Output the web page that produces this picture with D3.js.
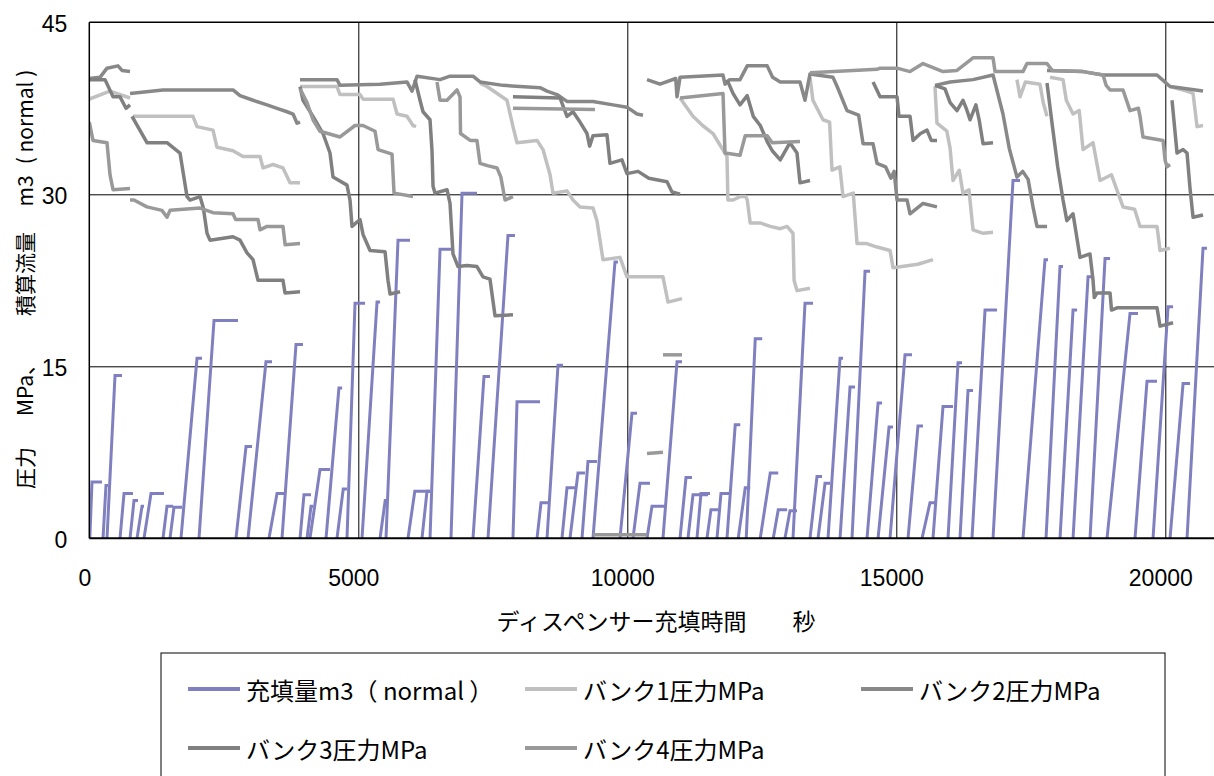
<!DOCTYPE html>
<html>
<head>
<meta charset="utf-8">
<script src="https://d3js.org/d3.v7.min.js"></script>
<style>
  body { margin: 0; background: #fff; }
  .tick-label { font-family: "Liberation Sans", Arial, sans-serif; font-size: 23px; fill: #000; }
  .cjk { font-family: "Noto Sans CJK JP", "Noto Sans", sans-serif; fill: #000; }
</style>
</head>
<body>
<svg id="chart" width="1214" height="776"></svg>
<script>
// axis ticks
const xTicks = [0, 5000, 10000, 15000, 20000];
const yTicks = [0, 15, 30, 45];

const seriesNames = ['充填量m3（ normal ）', 'バンク1圧力MPa', 'バンク2圧力MPa', 'バンク3圧力MPa', 'バンク4圧力MPa'];
const seriesColors = ['#8080c0', '#c0c0c0', '#888888', '#808080', '#999999'];

// y title pieces, written bottom to top
const yTitleParts = ['圧力', 'MPa、', '積算流量', 'm3', '( normal )'];

// fill events: [start s, end of rise s, top m3, end of fill s]
const fillEvents = [
    [10, 50, 4.9, 236], [255, 310, 4.6, 348], [329, 478, 14.2, 608], [571, 645, 3.9, 812],
    [757, 831, 3.3, 905], [887, 980, 2.8, 1017], [1017, 1147, 3.9, 1389], [1370, 1444, 2.8, 1556],
    [1500, 1574, 2.7, 1723], [1704, 2002, 15.7, 2095], [2039, 2318, 19.0, 2764], [2727, 2913, 8.0, 3024],
    [2950, 3284, 15.4, 3396], [3340, 3489, 3.9, 3638], [3582, 3842, 16.9, 3972], [3917, 3990, 3.8, 4121],
    [4047, 4121, 2.8, 4158], [4102, 4288, 6.0, 4474], [4400, 4640, 13.1, 4700], [4604, 4720, 4.3, 4790],
    [4790, 4939, 20.5, 5125], [5069, 5348, 20.6, 5404], [5404, 5500, 3.3, 5530], [5515, 5738, 26.0, 5961],
    [5924, 6050, 4.1, 6333], [6184, 6277, 4.1, 6333], [6333, 6519, 25.2, 6760], [6723, 6928, 30.1, 7206],
    [7132, 7336, 14.1, 7448], [7411, 7782, 26.4, 7913], [7875, 7950, 11.9, 8378], [8322, 8396, 3.1, 8526],
    [8508, 8712, 15.1, 8805], [8786, 8879, 4.4, 9028], [8935, 9083, 5.7, 9213], [9158, 9269, 6.7, 9436],
    [9362, 9771, 24.1, 9827], [9864, 10087, 10.9, 10180], [10106, 10236, 4.8, 10422], [10366, 10459, 2.8, 10738],
    [10663, 10924, 15.4, 11017], [10980, 11091, 5.3, 11202], [11128, 11221, 3.8, 11500], [11295, 11369, 3.9, 11537],
    [11481, 11555, 2.5, 11686], [11667, 11741, 3.9, 11913], [11853, 12006, 9.9, 12100], [12062, 12192, 4.4, 12285],
    [12211, 12378, 17.4, 12508], [12471, 12657, 5.7, 12806], [12713, 12806, 2.5, 12970], [12931, 13024, 2.4, 13154],
    [13080, 13303, 20.5, 13452], [13396, 13526, 5.4, 13619], [13545, 13675, 4.8, 13768], [13731, 13954, 15.7, 14010],
    [13954, 14140, 13.2, 14233], [14177, 14419, 23.3, 14512], [14456, 14661, 11.8, 14735], [14661, 14865, 9.7, 14939],
    [14883, 15162, 16.0, 15292], [15218, 15403, 9.8, 15496], [15478, 15626, 3.1, 15719], [15682, 15868, 11.5, 16054],
    [15961, 16147, 15.3, 16221], [16184, 16333, 12.9, 16426], [16407, 16649, 19.9, 16872], [16798, 17169, 31.2, 17299],
    [17355, 17764, 24.3, 17820], [17783, 18043, 23.7, 18099], [18043, 18285, 19.9, 18360], [18285, 18564, 22.8, 18657],
    [18601, 18880, 24.4, 18973], [18917, 19344, 19.6, 19493], [19437, 19660, 13.7, 19846], [19772, 20051, 20.2, 20144],
    [20088, 20330, 13.5, 20460], [20404, 20701, 25.3, 20775]
];

// bank pressures, MPa: one array of [s, MPa] per recorded stretch
const bank1 = [
    [[0, 38.3], [385, 39.0], [757, 38.4]],
    [[812, 36.8], [1927, 36.8], [2002, 35.9], [2299, 35.6], [2373, 34.1], [2671, 33.8], [2857, 33.3], [3173, 33.3], [3229, 32.3], [3415, 32.6], [3600, 32.3], [3731, 31.0], [3917, 31.0]],
    [[3917, 39.4], [4604, 39.4], [4660, 38.7], [5032, 38.7], [5088, 38.3], [5646, 38.3], [5720, 37.0], [5905, 36.8], [6017, 36.0], [6073, 35.9]],
    [[7262, 39.7], [7392, 39.4], [7764, 38.2], [7875, 35.9], [7950, 34.5], [8322, 34.7], [8433, 33.9], [8564, 31.7], [8619, 30.1], [8879, 30.3], [8991, 29.5], [9121, 28.9], [9362, 28.8], [9436, 27.7], [9492, 26.0], [9548, 24.3], [9864, 24.5], [9994, 22.8], [10663, 22.8], [10757, 20.6], [11017, 20.9]],
    [[10980, 38.4], [11221, 36.8], [11400, 36.0], [11593, 35.3], [11723, 34.3], [11853, 33.3], [11870, 29.5], [11965, 29.5], [12095, 29.8], [12200, 29.8], [12229, 29.5], [12285, 27.5], [12471, 27.5], [12657, 27.2], [12843, 27.0], [12970, 27.2], [13080, 26.6], [13100, 22.5], [13154, 21.6], [13396, 21.8]],
    [[13396, 40.2], [13450, 38.2], [13637, 36.5], [13760, 36.3], [13805, 32.1], [13950, 32.4], [14010, 29.8], [14200, 30.1], [14270, 25.7], [14450, 25.7], [14642, 25.4], [14884, 25.1], [14939, 23.6], [15400, 23.9], [15682, 24.3]],
    [[15719, 39.4], [15756, 36.2], [15940, 35.5], [16000, 34.0], [16054, 31.2], [16170, 32.1], [16239, 30.1], [16350, 30.4], [16426, 26.9], [16612, 26.6], [16798, 26.7]],
    [[17243, 40.0], [17300, 38.5], [17400, 39.8], [17671, 39.6], [17730, 38.0], [17801, 36.8]],
    [[17857, 40.2], [18099, 40.0], [18160, 38.2], [18285, 37.0], [18400, 37.3], [18471, 33.9], [18657, 34.5], [18787, 31.2], [19000, 31.7], [19214, 28.9], [19430, 28.7], [19530, 27.2], [19846, 27.2], [19902, 25.1], [20088, 25.3]],
    [[20088, 39.4], [20400, 39.0], [20516, 38.8], [20590, 35.9], [20701, 36.0]]
];

const bank2 = [
    [[0, 40.1], [199, 40.2], [329, 41.0], [533, 41.2], [608, 40.8], [757, 40.7]],
    [[757, 38.8], [1370, 39.1], [2671, 39.1], [2801, 38.6], [3043, 38.2], [3303, 37.8], [3489, 37.5], [3675, 37.2], [3787, 37.0], [3861, 36.2], [3917, 36.3]],
    [[3917, 40.0], [4604, 40.0], [4660, 39.5], [5404, 39.6], [5905, 39.8], [5998, 39.0], [6091, 40.3], [6519, 40.0], [6705, 40.3], [7132, 40.3], [7262, 39.8], [7690, 39.5], [8378, 39.3], [8508, 39.0], [8693, 38.7], [8879, 38.1], [9362, 38.1], [9734, 37.8], [9994, 37.6], [10180, 37.0], [10292, 36.9]],
    [[10366, 40.0], [10608, 39.6], [10900, 40.1], [10924, 38.5], [10980, 40.2], [11779, 40.4], [11816, 39.6], [11900, 40.0], [12095, 40.0], [12229, 41.2], [12601, 41.2], [12700, 40.2], [12843, 39.8], [13210, 39.8], [13303, 38.2], [13396, 40.5], [13824, 40.2], [13900, 39.4], [14084, 37.3], [14300, 36.9], [14382, 34.4], [14568, 34.4], [14642, 32.7], [14800, 32.4], [14900, 31.4], [14960, 32.0], [15014, 29.5], [15200, 29.5], [15255, 28.3], [15497, 29.2], [15756, 28.9]],
    [[15719, 39.5], [16000, 39.8], [16426, 40.0], [16798, 40.4], [16983, 37.0], [17100, 34.0], [17243, 31.5], [17350, 32.0], [17450, 31.3], [17541, 28.9], [17615, 27.2], [17801, 27.2]],
    [[17801, 40.8], [18471, 40.7], [18843, 40.4], [19846, 40.4], [19990, 39.8], [20088, 39.4], [20701, 39.0]]
];

const bank3 = [
    [[0, 40.0], [292, 40.0], [441, 38.5], [571, 38.5], [682, 37.5], [757, 37.8]],
    [[794, 36.8], [1072, 34.5], [1444, 34.5], [1686, 33.6], [1816, 29.8], [1872, 29.5], [2058, 29.8], [2120, 28.8], [2188, 26.6], [2243, 26.0], [2671, 26.3], [2801, 26.0], [2931, 24.9], [3043, 24.3], [3136, 22.5], [3600, 22.5], [3638, 21.4], [3917, 21.5]],
    [[3917, 39.4], [3972, 38.2], [4158, 36.8], [4344, 35.3], [4474, 33.6], [4530, 31.5], [4790, 30.8], [4846, 29.5], [4883, 27.2], [5032, 27.8], [5088, 26.5], [5218, 25.1], [5497, 25.0], [5552, 22.5], [5590, 21.3], [5776, 21.5]],
    [[6054, 40.0], [6147, 38.2], [6203, 37.2], [6333, 36.5], [6370, 33.8], [6389, 30.7], [6426, 30.1], [6649, 30.4], [6705, 29.2], [6760, 24.8], [6853, 23.7], [7021, 23.8], [7206, 23.7], [7318, 22.8], [7448, 22.6], [7541, 19.4], [7875, 19.5]],
    [[7875, 38.5], [8749, 38.4], [8879, 36.8], [8991, 37.2], [9121, 36.3], [9251, 35.3], [9300, 34.2], [9362, 35.1], [9622, 35.2], [9678, 32.7], [9900, 33.0], [9994, 31.8], [10200, 32.0], [10400, 31.4], [10738, 31.1], [10831, 30.2], [10980, 30.0]],
    [[11853, 40.0], [11965, 38.8], [12095, 37.8], [12229, 38.6], [12341, 36.8], [12471, 36.0], [12601, 34.6], [12694, 33.8], [12843, 33.0], [13024, 34.5], [13154, 33.6], [13210, 31.0], [13396, 31.2]],
    [[14568, 39.8], [14698, 38.5], [15014, 38.5], [15050, 36.8], [15255, 36.8], [15311, 34.7], [15450, 35.3], [15571, 35.6], [15650, 34.7], [15756, 34.7]],
    [[15719, 39.5], [15905, 39.2], [16000, 38.0], [16128, 37.3], [16239, 38.2], [16300, 37.5], [16370, 36.5], [16480, 37.8], [16540, 36.5], [16612, 34.4], [16798, 34.5]],
    [[17801, 39.7], [17900, 36.0], [18000, 32.4], [18099, 29.5], [18170, 27.7], [18285, 28.3], [18415, 24.5], [18600, 24.8], [18657, 22.5], [18680, 21.0], [18731, 21.4], [18973, 21.4], [19000, 19.9], [19103, 20.1], [19846, 20.1], [19902, 18.5], [20144, 18.8]],
    [[20125, 38.2], [20218, 33.6], [20330, 33.9], [20404, 33.6], [20460, 30.5], [20516, 28.0], [20701, 28.2]]
];

const bank4 = [
    [[0, 36.3], [69, 34.7], [329, 34.5], [385, 31.7], [441, 30.4], [757, 30.5]],
    [[757, 29.5], [830, 29.5], [1072, 28.9], [1350, 28.6], [1444, 28.0], [1500, 28.6], [2058, 28.8], [2300, 28.4], [2671, 28.3], [2720, 27.8], [3136, 27.8], [3173, 26.9], [3303, 27.2], [3600, 27.2], [3640, 25.6], [3917, 25.7]],
    [[3917, 39.2], [4047, 38.0], [4158, 36.5], [4288, 35.5], [4660, 35.0], [4939, 36.0], [5088, 36.0], [5311, 35.5], [5367, 33.9], [5627, 33.5], [5664, 30.1], [6017, 29.8]],
    [[6463, 39.8], [6519, 38.2], [6649, 38.2], [6835, 39.1], [6891, 38.5], [6900, 35.3], [7080, 34.7], [7206, 34.7], [7262, 32.7], [7400, 32.5], [7578, 32.3], [7650, 31.5], [7727, 29.5], [7875, 29.8]],
    [[7875, 37.5], [9399, 37.4]],
    [[9362, 0.3], [10366, 0.3]],
    [[10366, 7.4], [10663, 7.5]],
    [[10663, 16.0], [11017, 16.0]],
    [[10980, 38.4], [11779, 38.8], [11816, 33.6], [12095, 33.4], [12192, 35.1], [12601, 35.1], [12694, 34.5], [13210, 34.6]],
    [[13396, 40.6], [14642, 40.9], [14698, 41.0], [15014, 41.0], [15255, 40.7], [15497, 41.4], [15868, 40.7], [16128, 40.8], [16426, 41.9], [16798, 41.9], [16835, 40.7], [17355, 40.7], [17429, 41.4], [17801, 41.4], [17900, 40.8], [18471, 40.7], [18843, 40.4], [18900, 39.5], [18973, 39.1], [19214, 39.1], [19344, 37.3], [19500, 37.5], [19530, 36.8], [19585, 35.0], [19958, 34.7], [19995, 33.0], [20032, 32.4], [20088, 32.6]]
];

const svg = d3.select('#chart');
const margin = {left: 89.3, top: 22.3};
const plotW = 1129.8;   // 21000 s wide, runs past the right edge of the picture
const plotH = 516;

const x = d3.scaleLinear().domain([0, 21000]).range([margin.left, margin.left + plotW]);
const y = d3.scaleLinear().domain([0, 45]).range([margin.top + plotH, margin.top]);

svg.append('rect').attr('width', 1214).attr('height', 776).attr('fill', '#fff');

svg.append('defs').append('clipPath').attr('id', 'plot-clip')
    .append('rect')
    .attr('x', margin.left).attr('y', margin.top - 2)
    .attr('width', plotW).attr('height', plotH + 4);

//grids
svg.append('g')
    .attr('transform', `translate(${margin.left},0)`)
    .call(d3.axisLeft(y).tickValues(yTicks.slice(1, -1)).tickSize(-plotW).tickFormat(''))
    .call(g => g.select('.domain').remove())
    .call(g => g.selectAll('line').attr('stroke', '#000').attr('stroke-width', 1));
svg.append('g')
    .attr('transform', `translate(0,${margin.top + plotH})`)
    .call(d3.axisBottom(x).tickValues(xTicks.slice(1)).tickSize(-plotH).tickFormat(''))
    .call(g => g.select('.domain').remove())
    .call(g => g.selectAll('line').attr('stroke', '#000').attr('stroke-width', 1));

//series
const line = d3.line().x(d => x(d[0])).y(d => y(d[1]));
const series = svg.append('g').attr('clip-path', 'url(#plot-clip)');

series.append('g').selectAll('path')
    .data(fillEvents)
    .enter().append('path')
    .attr('d', d => line([[d[0], 0], [d[1], d[2]], [d[3], d[2]]]))
    .attr('fill', 'none')
    .attr('stroke', seriesColors[0])
    .attr('stroke-width', 3);

[bank1, bank2, bank3, bank4].forEach((bank, i) => {
    series.append('g').selectAll('path')
        .data(bank)
        .enter().append('path')
        .attr('d', line)
        .attr('fill', 'none')
        .attr('stroke', seriesColors[i + 1])
        .attr('stroke-width', 3.5)
        .attr('stroke-linejoin', 'round');
});

//plot frame
svg.append('line')
    .attr('x1', margin.left).attr('x2', margin.left + plotW)
    .attr('y1', margin.top).attr('y2', margin.top)
    .attr('stroke', '#000').attr('stroke-width', 1.5);
svg.append('line')
    .attr('x1', margin.left).attr('x2', margin.left)
    .attr('y1', margin.top).attr('y2', margin.top + plotH)
    .attr('stroke', '#000').attr('stroke-width', 1.5);
svg.append('line')
    .attr('x1', margin.left).attr('x2', margin.left + plotW)
    .attr('y1', margin.top + plotH).attr('y2', margin.top + plotH)
    .attr('stroke', '#000').attr('stroke-width', 2);

//tick labels
svg.append('g')
    .attr('transform', `translate(${margin.left},0)`)
    .call(d3.axisLeft(y).tickValues(yTicks).tickSize(0).tickPadding(22).tickFormat(d3.format('d')))
    .call(g => g.select('.domain').remove())
    .call(g => g.selectAll('text').attr('class', 'tick-label').attr('dy', '0.42em'));
svg.append('g')
    .attr('transform', `translate(0,${margin.top + plotH})`)
    .call(d3.axisBottom(x).tickValues(xTicks).tickSize(0).tickPadding(31).tickFormat(d3.format('d')))
    .call(g => g.select('.domain').remove())
    .call(g => g.selectAll('text').attr('class', 'tick-label').attr('x', -5));
svg.selectAll('g').filter(function() { return this.getAttribute('font-size'); })
    .attr('font-size', null).attr('font-family', null);

//axis titles
svg.append('text')
    .attr('class', 'cjk')
    .attr('x', 656).attr('y', 620)
    .attr('text-anchor', 'middle')
    .attr('dominant-baseline', 'central')
    .style('font-size', '23px')
    .text('ディスペンサー充填時間　　秒');

// pieces of the rotated title, centred at these heights in the picture
const yTitleCentres = [468, 385, 274, 191, 117];
svg.append('g')
    .attr('transform', 'translate(24,0) rotate(-90)')
    .selectAll('text')
    .data(yTitleParts)
    .enter().append('text')
    .attr('class', 'cjk')
    .attr('x', (d, i) => -yTitleCentres[i])
    .attr('text-anchor', 'middle')
    .attr('dominant-baseline', 'central')
    .style('font-size', '21px')
    .text(d => d);

//legend
const legend = svg.append('g');
legend.append('rect')
    .attr('x', 161).attr('y', 653)
    .attr('width', 1004).attr('height', 140)
    .attr('fill', '#fff').attr('stroke', '#000').attr('stroke-width', 1);
const legendPos = [[188, 689], [525, 689], [861, 689], [188, 748], [525, 748]];
const item = legend.selectAll('g.item')
    .data(seriesNames)
    .enter().append('g')
    .attr('class', 'item')
    .attr('transform', (d, i) => `translate(${legendPos[i][0]},${legendPos[i][1]})`);
item.append('line')
    .attr('x1', 0).attr('x2', 52)
    .attr('stroke', (d, i) => seriesColors[i])
    .attr('stroke-width', 4);
item.append('text')
    .attr('class', 'cjk')
    .attr('x', 58)
    .attr('dominant-baseline', 'central')
    .style('font-size', '24px')
    .text(d => d);
</script>
</body>
</html>
